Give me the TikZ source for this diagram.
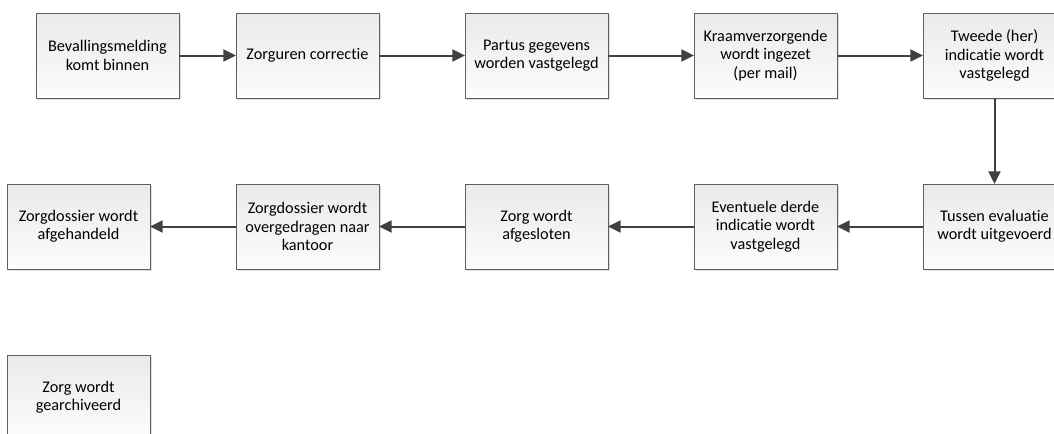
\documentclass[tikz,border=0pt]{standalone}
\usepackage{fontspec}
\setmainfont{Carlito}[Ligatures=NoCommon]
\usepackage{tikz}
\usetikzlibrary{positioning,arrows.meta,shadows}
\definecolor{boxline}{RGB}{95,95,95}
\definecolor{boxtop}{RGB}{234,234,234}
\definecolor{boxbottom}{RGB}{252,252,252}
\definecolor{arrowgrey}{RGB}{64,64,64}
\tikzset{
  stap/.style={draw=boxline,line width=0.75pt,top color=boxtop,bottom color=boxbottom,align=center,font=\fontsize{12.2pt}{13.8pt}\selectfont,minimum width=107.25pt,minimum height=63.75pt,inner sep=0pt,outer sep=0pt,drop shadow={shadow xshift=1.5pt,shadow yshift=-1.5pt,opacity=0.25,fill=black!50}},
  pijl/.style={-{Triangle[length=9.5pt,width=9pt]},draw=arrowgrey,line width=1.5pt},
}
\begin{document}
\begin{tikzpicture}[node distance=64.5pt and 64.5pt]
\clip (0,0) rectangle (790.5pt,-324.75pt);
% bovenste rij
\node[stap] (meld) at (80.625pt,-41.625pt) {Bevallingsmelding\\ komt binnen};
\node[stap,right=42.75pt of meld] (corr) {Zorguren correctie};
\node[stap,right=of corr] (partus) {Partus gegevens\\ worden vastgelegd};
\node[stap,right=of partus] (kraam) {Kraamverzorgende\\ wordt ingezet\\ (per mail)};
\node[stap,right=of kraam] (tweede) {Tweede (her)\\ indicatie wordt\\ vastgelegd};
\draw[pijl] (meld)--(corr); \draw[pijl] (corr)--(partus);
\draw[pijl] (partus)--(kraam); \draw[pijl] (kraam)--(tweede);

% tweede rij, terug naar links
\node[stap,below=of tweede] (tussen) {Tussen evaluatie\\ wordt uitgevoerd};
\node[stap,left=of tussen] (derde) {Eventuele derde\\ indicatie wordt\\ vastgelegd};
\node[stap,left=of derde] (afsl) {Zorg wordt\\ afgesloten};
\node[stap,left=of afsl] (overdr) {Zorgdossier wordt\\ overgedragen naar\\ kantoor};
\node[stap,left=of overdr] (afgeh) {Zorgdossier wordt\\ afgehandeld};
\draw[pijl] (tweede)--(tussen);
\draw[pijl] (tussen)--(derde); \draw[pijl] (derde)--(afsl);
\draw[pijl] (afsl)--(overdr); \draw[pijl] (overdr)--(afgeh);

\node[stap,below=of afgeh] (archief) {Zorg wordt\\ gearchiveerd};
\end{tikzpicture}
\end{document}
